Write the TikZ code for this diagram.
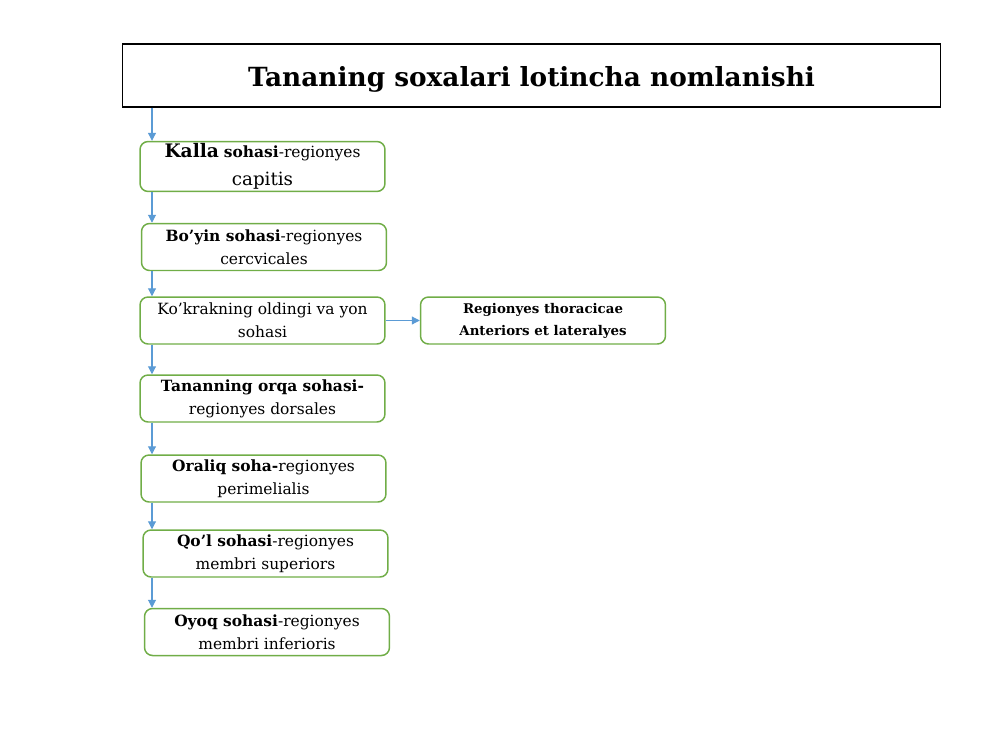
\documentclass[tikz,border=0pt]{standalone}
\usepackage{fontspec}
\setmainfont{DejaVu Serif}
\usetikzlibrary{arrows.meta,calc}
\definecolor{boxgreen}{HTML}{70AD47}
\definecolor{arrblue}{HTML}{5B9BD5}
\begin{document}
\begin{tikzpicture}[x=0.02cm,y=-0.02cm,
  region/.style={draw=boxgreen,line width=0.85pt,rounded corners=0.16cm,minimum width=4.9cm,minimum height=0.94cm,inner sep=1pt,align=center,font=\fontsize{8.8}{13.2}\selectfont},
  titlebox/.style={draw=black,line width=0.6pt,minimum width=16.38cm,minimum height=1.26cm,text height=14pt,text depth=2pt,font=\fontsize{15}{18}\selectfont\bfseries},
  conn/.style={draw=arrblue,line width=0.6pt,-{Triangle[length=1.6mm,width=1.6mm]}}]
\useasboundingbox (0,0) rectangle (1000,750);
% title
\node[titlebox] (title) at (531.5,75.5) {Tananing soxalari lotincha nomlanishi};
\coordinate (tx) at (152,0);
% boxes
\node[region] (kalla) at (262.5,166.5) {{\fontsize{10.6}{12}\selectfont\textbf{Kalla}} \textbf{sohasi}-regionyes\\[3pt]{\fontsize{10.4}{12}\selectfont capitis}};
\node[region] (boyin) at (264,247) {\textbf{Bo’yin sohasi}-regionyes\\cercvicales};
\node[region] (kokrak) at (262.5,320.5) {Ko’krakning oldingi va yon\\sohasi};
\node[region,font=\fontsize{7.6}{12.6}\selectfont\bfseries] (thor) at (543,320.5) {Regionyes thoracicae\\Anteriors et lateralyes};
\node[region] (orqa) at (262.5,398.5) {\textbf{Tananning orqa sohasi-}\\regionyes dorsales};
\node[region] (oraliq) at (263.5,478.5) {\textbf{Oraliq soha-}regionyes\\perimelialis};
\node[region] (qol) at (265.5,553.5) {\textbf{Qo’l sohasi}-regionyes\\membri superiors};
\node[region] (oyoq) at (267,632) {\textbf{Oyoq sohasi}-regionyes\\membri inferioris};
% connectors
\draw[conn] (title.south -| tx) -- (kalla.north -| tx);
\draw[conn] (kalla.south -| tx) -- (boyin.north -| tx);
\draw[conn] (boyin.south -| tx) -- (kokrak.north -| tx);
\draw[conn] (kokrak.south -| tx) -- (orqa.north -| tx);
\draw[conn] (orqa.south -| tx) -- (oraliq.north -| tx);
\draw[conn] (oraliq.south -| tx) -- (qol.north -| tx);
\draw[conn] (qol.south -| tx) -- (oyoq.north -| tx);
\draw[conn] (kokrak.east) -- (thor.west);
\end{tikzpicture}
\end{document}
